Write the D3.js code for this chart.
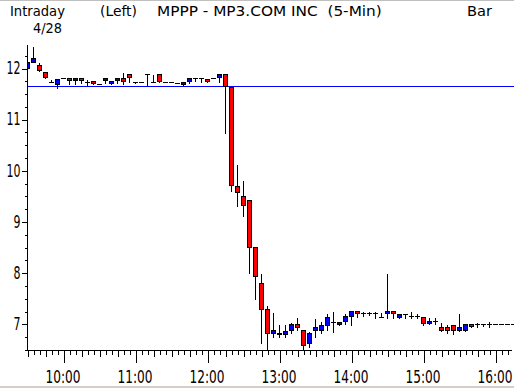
<!DOCTYPE html>
<html>
<head>
<meta charset="utf-8">
<script src="https://cdn.jsdelivr.net/npm/d3@7"></script>
<style>
body { margin: 0; background: #fff; }
text { font-family: "Liberation Sans Narrow", "Arial Narrow", "DejaVu Sans Condensed", sans-serif; fill: #000; }
</style>
</head>
<body>
<script>

// 5-min bars, MPPP 4/28
var times = ["9:30","9:35","9:40","9:45","9:50","9:55",
  "10:00","10:05","10:10","10:15","10:20","10:25","10:30","10:35","10:40","10:45","10:50","10:55",
  "11:00","11:05","11:10","11:15","11:20","11:25","11:30","11:35","11:40","11:45","11:50","11:55",
  "12:00","12:05","12:10","12:15","12:20","12:25","12:30","12:35","12:40","12:45","12:50","12:55",
  "13:00","13:05","13:10","13:15","13:20","13:25","13:30","13:35","13:40","13:45","13:50","13:55",
  "14:00","14:05","14:10","14:15","14:20","14:25","14:30","14:35","14:40","14:45","14:50","14:55",
  "15:00","15:05","15:10","15:15","15:20","15:25","15:30","15:35","15:40","15:45","15:50","15:55",
  "16:00","16:05","16:10","16:15"]

var opens = [12.01,12.12,12.06,11.93,11.73,11.69,
  11.80,11.80,11.76,11.80,11.73,11.74,11.69,11.76,11.70,11.76,11.80,11.88,
  11.73,11.73,11.88,11.73,11.88,11.73,11.73,11.71,11.69,11.75,11.80,11.80,
  11.78,11.80,11.82,11.88,11.62,9.69,9.50,9.43,8.50,7.79,7.30,6.83,
  6.80,6.80,6.88,7.00,6.89,6.63,6.89,6.88,6.98,7.04,7.00,7.06,
  7.15,7.25,7.21,7.21,7.21,7.14,7.21,7.25,7.14,7.19,7.15,7.15,
  7.13,7.01,7.06,6.93,6.93,6.97,6.88,6.88,6.99,6.99,6.99,6.99,
  6.99,6.99,6.99,6.99]
var highs = [12.14,12.43,12.11,11.94,11.79,11.79,
  11.80,11.80,11.80,11.80,11.79,11.74,11.69,11.80,11.74,11.80,11.93,11.88,
  11.73,11.73,11.88,11.88,11.88,11.73,11.73,11.71,11.73,11.80,11.80,11.80,
  11.80,11.80,11.88,11.88,11.62,10.12,9.81,9.43,8.50,7.99,7.37,7.24,
  7.00,7.00,7.04,7.13,6.89,6.86,7.11,7.06,7.21,7.26,7.06,7.21,
  7.25,7.25,7.25,7.25,7.26,7.24,8.00,7.25,7.19,7.19,7.25,7.21,
  7.15,7.14,7.14,7.04,7.00,6.97,7.22,6.99,6.99,7.04,6.99,7.06,
  6.99,6.99,6.99,6.99]
var lows = [11.98,12.11,11.95,11.80,11.73,11.61,
  11.80,11.68,11.68,11.71,11.67,11.69,11.69,11.71,11.69,11.71,11.69,11.72,
  11.71,11.73,11.67,11.73,11.73,11.73,11.73,11.71,11.67,11.71,11.75,11.73,
  11.72,11.80,11.73,10.74,9.60,9.31,9.11,7.99,7.49,6.62,6.49,6.74,
  6.74,6.74,6.83,6.88,6.50,6.55,6.74,6.83,6.89,6.85,6.98,7.00,
  6.98,7.13,7.16,7.18,7.12,7.14,7.12,7.12,7.11,7.12,7.12,7.12,
  6.98,6.99,7.00,6.86,6.83,6.81,6.86,6.86,6.93,6.93,6.96,6.93,
  6.99,6.99,6.99,6.99]
var closes = [12.11,12.19,11.97,11.82,11.73,11.79,
  11.80,11.76,11.80,11.76,11.73,11.70,11.69,11.80,11.74,11.80,11.75,11.82,
  11.73,11.73,11.88,11.73,11.75,11.73,11.73,11.71,11.73,11.80,11.80,11.80,
  11.75,11.80,11.88,11.65,9.71,9.57,9.33,8.51,7.94,7.30,6.83,6.88,
  6.83,6.87,6.99,6.94,6.59,6.82,6.94,6.98,7.14,7.04,7.04,7.15,
  7.25,7.21,7.21,7.21,7.21,7.14,7.25,7.21,7.19,7.19,7.15,7.15,
  7.01,7.06,7.06,6.88,6.88,6.88,6.93,6.99,6.95,6.99,6.99,6.99,
  6.99,6.99,6.99,6.99]

var prevClose = 11.65
var priceTicks = [7, 8, 9, 10, 11, 12]
var priceMinor = [6.5,6.75,7.25,7.5,7.75,8.25,8.5,8.75,9.25,9.5,9.75,10.25,10.5,10.75,11.25,11.5,11.75,12.25]
var hourLabels = ["10:00","11:00","12:00","13:00","14:00","15:00","16:00"]

var w = 514, h = 388

var toMin = function(s){ var p = s.split(":"); return +p[0]*60 + +p[1] }

// squeeze a text horizontally to a given width, anchored at its own x
function squeeze(sel, width, ax) {
  sel.each(function(){
    var n = this.getComputedTextLength()
    if (n > 0) {
      var k = width / n, x0 = ax != null ? ax : (+this.getAttribute("x") || 0)
      d3.select(this).attr("transform", "translate(" + x0 + ",0) scale(" + k + ",1) translate(" + (-x0) + ",0)")
    }
  })
}

var svg = d3.select("body").append("svg").attr("width", w).attr("height", h)

svg.append("rect").attr("width", w).attr("height", h).attr("fill", "#fff")
// window frame bits
svg.append("rect").attr("x",0).attr("y",0).attr("width",w).attr("height",1).attr("fill","#c0c0c0")
svg.append("rect").attr("x",0).attr("y",386).attr("width",w).attr("height",2).attr("fill","#d4d0c8")

var x = d3.scaleLinear().domain([toMin("9:30"), toMin("16:00")]).range([27.5, 495.5])
var y = d3.scaleLinear().domain([6.49, 12.45]).range([350, 45])

var px = function(v){ return Math.round(y(v)) + 0.5 }

svg.append("defs").append("clipPath").attr("id","plot")
  .append("rect").attr("x",27).attr("y",40).attr("width",487).attr("height",311)

// header
var header = [
  {t:"Intraday", x:10, y:16, len:55},
  {t:"4/28", x:33, y:33, len:29},
  {t:"(Left)", x:100, y:16, len:37},
  {t:"MPPP - MP3.COM INC  (5-Min)", x:157, y:16, len:225},
  {t:"Bar", x:467, y:16, len:25}
]
svg.selectAll("text.hdr").data(header).enter().append("text").attr("class","hdr")
  .attr("x", function(d){return d.x}).attr("y", function(d){return d.y})
  .attr("font-size", 14)
  .style("white-space","pre")
  .text(function(d){return d.t})
  .each(function(d){ squeeze(d3.select(this), d.len) })

// previous close line
svg.append("line").attr("x1",27).attr("x2",w).attr("y1",px(prevClose)).attr("y2",px(prevClose))
  .attr("stroke","#0000ff").attr("stroke-width",1).attr("shape-rendering","crispEdges")

// candles
var bars = times.map(function(t,i){
  return {t: toMin(t), o: opens[i], h: highs[i], l: lows[i], c: closes[i]}
})

var plot = svg.append("g").attr("clip-path","url(#plot)").attr("shape-rendering","crispEdges")

var g = plot.selectAll("g.bar").data(bars).enter().append("g").attr("class","bar")

g.append("line")
  .attr("x1", function(d){return x(d.t)}).attr("x2", function(d){return x(d.t)})
  .attr("y1", function(d){return px(d.h)}).attr("y2", function(d){return px(d.l)})
  .attr("stroke","#000")

g.filter(function(d){return px(d.o) === px(d.c)}).append("line")
  .attr("x1", function(d){return x(d.t) - 2.5}).attr("x2", function(d){return x(d.t) + 2.5})
  .attr("y1", function(d){return px(d.o)}).attr("y2", function(d){return px(d.o)})
  .attr("stroke","#000")

g.filter(function(d){return px(d.o) !== px(d.c)}).append("rect")
  .attr("x", function(d){return x(d.t) - 2})
  .attr("width", 4)
  .attr("y", function(d){return Math.min(px(d.o), px(d.c))})
  .attr("height", function(d){return Math.abs(px(d.o) - px(d.c))})
  .attr("fill", function(d){return d.c < d.o ? "#ff0000" : "#0000ff"})
  .attr("stroke","#000")

// y axis
var yMinor = svg.append("g").attr("transform","translate(27.5,0)")
  .call(d3.axisLeft(y).tickValues(priceMinor).tickSize(3).tickFormat(""))
var yMajor = svg.append("g").attr("transform","translate(27.5,0)")
  .call(d3.axisLeft(y).tickValues(priceTicks).tickSize(6).tickPadding(1).tickFormat(d3.format("d")))
yMajor.selectAll("text").attr("font-size", 18)
yMajor.selectAll("text").each(function(d){
  squeeze(d3.select(this), String(d).length * 7, -7)
})
;[yMinor, yMajor].forEach(function(a){
  a.select(".domain").remove()
  a.selectAll("line").attr("shape-rendering","crispEdges").attr("transform","translate(0,0.5)")
})
svg.append("line").attr("x1",27.5).attr("x2",27.5).attr("y1",45).attr("y2",351)
  .attr("stroke","#000").attr("shape-rendering","crispEdges")

// x axis
var fiveMin = [], quarters = [], hours = []
times.forEach(function(t){
  var m = toMin(t)
  if (m % 60 === 0 && m >= 600 && m <= 960) hours.push(m)
  else if (m % 15 === 0) quarters.push(m)
  else fiveMin.push(m)
})
var axY = 350.5
var xa1 = svg.append("g").attr("transform","translate(0," + axY + ")")
  .call(d3.axisBottom(x).tickValues(fiveMin).tickSize(4).tickFormat(""))
var xa2 = svg.append("g").attr("transform","translate(0," + axY + ")")
  .call(d3.axisBottom(x).tickValues(quarters).tickSize(6).tickFormat(""))
var xa3 = svg.append("g").attr("transform","translate(0," + axY + ")")
  .call(d3.axisBottom(x).tickValues(hours).tickSize(12).tickPadding(8)
    .tickFormat(function(d,i){return hourLabels[i]}))
xa3.selectAll("text").attr("font-size", 18).attr("x", -1)
xa3.selectAll("text").each(function(){ squeeze(d3.select(this), 35, -1) })
;[xa1, xa2, xa3].forEach(function(a){
  a.select(".domain").remove()
  a.selectAll("line").attr("shape-rendering","crispEdges")
})
svg.append("line").attr("x1",27).attr("x2",512).attr("y1",axY).attr("y2",axY)
  .attr("stroke","#000").attr("shape-rendering","crispEdges")

</script>
</body>
</html>
